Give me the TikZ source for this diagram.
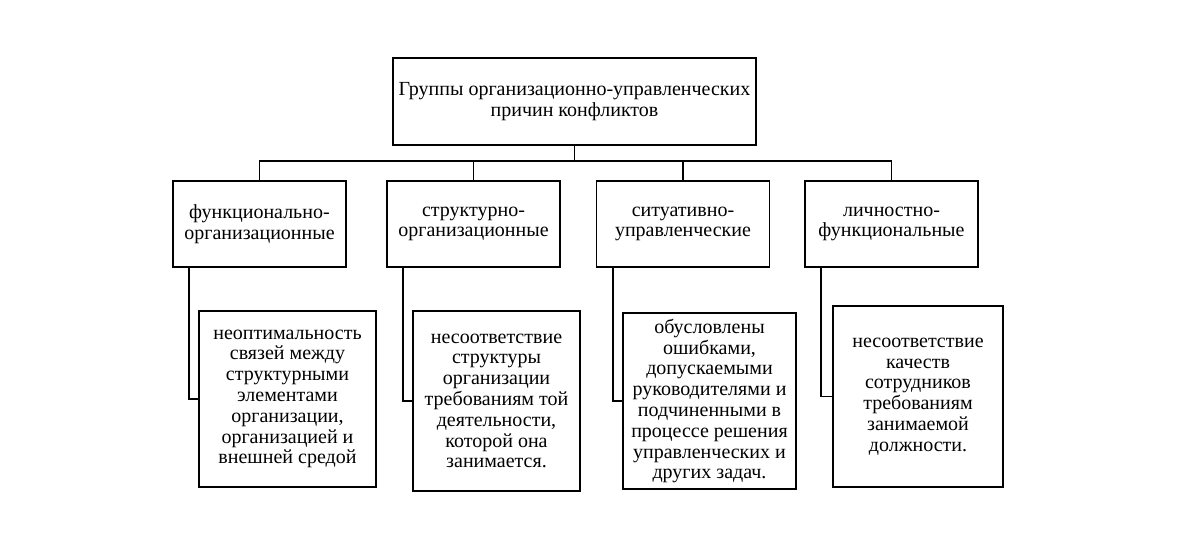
\documentclass[tikz,border=0pt]{standalone}
\usepackage{fontspec}
\setmainfont{Liberation Serif}
\begin{document}
\begin{tikzpicture}[x=1pt,y=-1pt,
  box/.style={draw=black,line width=1.8pt,rectangle,align=center,inner sep=0pt,
    font=\fontsize{20}{20.8}\selectfont},
  conn/.style={draw=black,line width=1.8pt}]
\useasboundingbox[fill=white] (0,0) rectangle (1200,559);
\node[box,minimum width=363pt,minimum height=87pt] (top) at (574.5,101.5)
  {Группы организационно-управленческих\\причин конфликтов};
\node[box,minimum width=173pt,minimum height=86pt] (a1) at (259.5,224) {функционально-\\организационные};
\node[box,minimum width=173pt,minimum height=86pt] (b1) at (473.5,224) {структурно-\\организационные};
\node[box,minimum width=173pt,minimum height=86pt] (c1) at (683,224) {ситуативно-\\управленческие};
\node[box,minimum width=173pt,minimum height=86pt] (d1) at (891.5,224) {личностно-\\функциональные};
\node[box,minimum width=177pt,minimum height=176pt] (a2) at (287.5,399)
  {неоптимальность\\связей между\\структурными\\элементами\\организации,\\организацией и\\внешней средой};
\node[box,minimum width=167pt,minimum height=180pt] (b2) at (496.5,401)
  {несоответствие\\структуры\\организации\\требованиям той\\деятельности,\\которой она\\занимается.};
\node[box,minimum width=173pt,minimum height=176pt] (c2) at (709.5,401)
  {обусловлены\\ошибками,\\допускаемыми\\руководителями и\\подчиненными в\\процессе решения\\управленческих и\\других задач.};
\node[box,minimum width=170pt,minimum height=181pt] (d2) at (918,396.5)
  {несоответствие\\качеств\\сотрудников\\требованиям\\занимаемой\\должности.};
\coordinate (bus) at (574.5,161);
\draw[conn] (top.south) -- (bus);
\draw[conn] (a1.north) |- (bus) -| (d1.north);
\draw[conn] (b1.north) -- (b1.north |- bus);
\draw[conn] (c1.north) -- (c1.north |- bus);
\draw[conn] ([xshift=17pt]a1.south west) |- (a2.west);
\draw[conn] ([xshift=17pt]b1.south west) |- (b2.west);
\draw[conn] ([xshift=17pt]c1.south west) |- (c2.west);
\draw[conn] ([xshift=17pt]d1.south west) |- (d2.west);
\end{tikzpicture}
\end{document}
